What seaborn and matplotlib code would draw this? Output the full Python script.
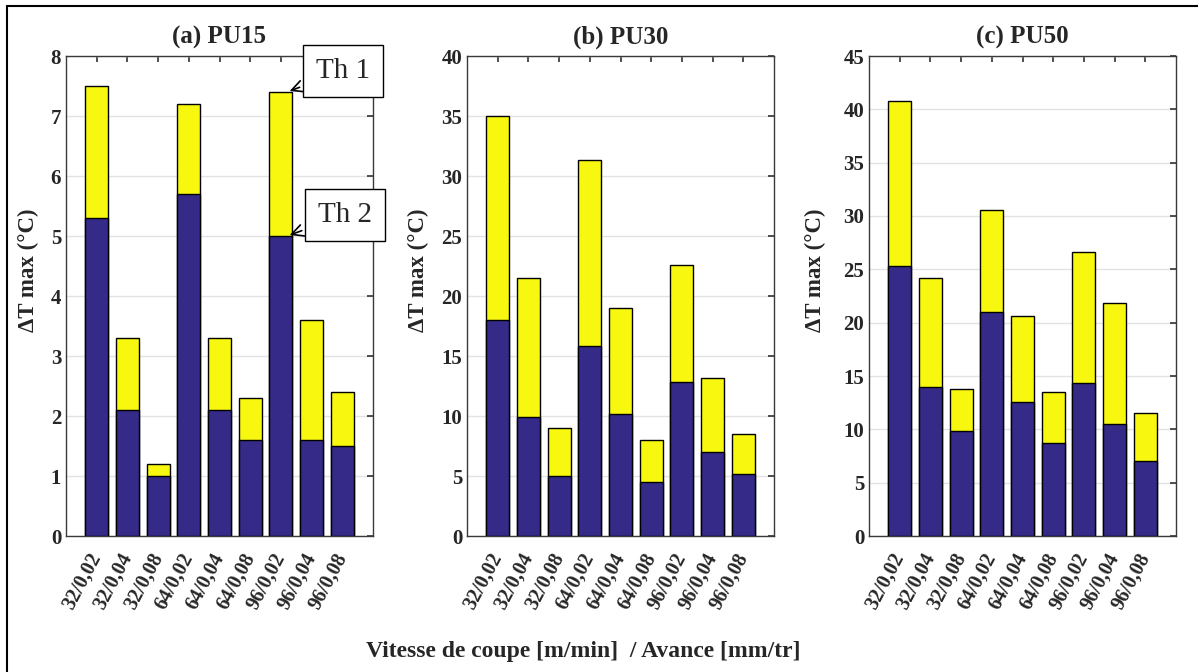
import seaborn as sns
import pandas as pd
import matplotlib.pyplot as plt
from matplotlib.lines import Line2D

sns.set_theme(style="white")
plt.rcParams['font.family'] = ['Liberation Serif', 'DejaVu Serif']
plt.rcParams['font.weight'] = 'bold'

# conditions de coupe (vitesse / avance)
conditions = ["32/0,02", "32/0,04", "32/0,08", "64/0,02", "64/0,04",
              "64/0,08", "96/0,02", "96/0,04", "96/0,08"]
titles = ["(a) PU15", "(b) PU30", "(c) PU50"]

# Th 1 = hauteur totale, Th 2 = partie basse
th1_pu15 = [7.5, 3.3, 1.2, 7.2, 3.3, 2.3, 7.4, 3.6, 2.4]
th2_pu15 = [5.3, 2.1, 1.0, 5.7, 2.1, 1.6, 5.0, 1.6, 1.5]
th1_pu30 = [35.0, 21.5, 9.0, 31.3, 19.0, 8.0, 22.6, 13.2, 8.5]
th2_pu30 = [18.0, 9.9, 5.0, 15.8, 10.2, 4.5, 12.8, 7.0, 5.2]
th1_pu50 = [40.8, 24.2, 13.8, 30.6, 20.6, 13.5, 26.6, 21.8, 11.5]
th2_pu50 = [25.3, 14.0, 9.8, 21.0, 12.6, 8.7, 14.3, 10.5, 7.0]

th1_all = [th1_pu15, th1_pu30, th1_pu50]
th2_all = [th2_pu15, th2_pu30, th2_pu50]
ymax = [8, 40, 45]
ystep = [1, 5, 5]

navy = "#352A87"
yellow = "#F7F70F"
grey = "#3a3a3a"

fig = plt.figure(figsize=(11.98, 6.72), dpi=100)
lefts = [66, 467, 869]
ylab_x = [-0.088, -0.124, -0.141]

for i in range(3):
    ax = fig.add_axes([lefts[i] / 1198, 136 / 672, 307 / 1198, 480 / 672])
    df = pd.DataFrame({"cond": conditions, "th1": th1_all[i], "th2": th2_all[i]})
    sns.barplot(data=df, x="cond", y="th1", color=yellow, saturation=1,
                width=0.75, edgecolor="black", linewidth=1, ax=ax, zorder=2)
    sns.barplot(data=df, x="cond", y="th2", color=navy, saturation=1,
                width=0.75, edgecolor="black", linewidth=1, ax=ax, zorder=3)
    ax.set_xlim(-1, 9)
    ax.set_ylim(0, ymax[i])
    ax.set_yticks(range(0, ymax[i] + 1, ystep[i]))
    ax.set_axisbelow(True)
    ax.yaxis.grid(True, color="#e3e3e3", linewidth=1)
    ax.tick_params(direction="in", top=True, right=True, length=4,
                   color=grey, labelcolor="#262626", labelsize=15)
    ax.set_xticks(range(9))
    ax.set_xticklabels(conditions, rotation=62, ha="right", va="center",
                       rotation_mode="anchor", fontsize=14.5)
    ax.tick_params(axis="x", pad=13)
    for s in ax.spines.values():
        s.set_color(grey)
        s.set_linewidth(1)
    ax.set_xlabel("")
    ax.set_ylabel("ΔT max (°C)", fontsize=16.5, fontweight="bold")
    ax.yaxis.set_label_coords(ylab_x[i], 0.554)
    ax.set_title(titles[i], fontsize=18, fontweight="bold", pad=9)

    if i == 0:
        ax.annotate("Th 1", xy=(6.2, th1_pu15[6]), xytext=(8.02, 7.75),
                    fontsize=21, fontweight="normal", ha="center", va="center",
                    bbox=dict(boxstyle="square,pad=0.45", fc="white", ec="black", lw=1),
                    arrowprops=dict(arrowstyle="->", color="black", lw=1.2),
                    annotation_clip=False, zorder=5)
        ax.annotate("Th 2", xy=(6.2, th2_pu15[6]), xytext=(8.09, 5.35),
                    fontsize=21, fontweight="normal", ha="center", va="center",
                    bbox=dict(boxstyle="square,pad=0.45", fc="white", ec="black", lw=1),
                    arrowprops=dict(arrowstyle="->", color="black", lw=1.2),
                    annotation_clip=False, zorder=5)

fig.text(583 / 1198, 1 - 652 / 672, "Vitesse de coupe [m/min]  / Avance [mm/tr]",
         ha="center", va="center", fontsize=17, fontweight="bold")

# cadre gauche et haut
fig.add_artist(Line2D([7 / 1198, 7 / 1198], [0, 1 - 6 / 672], color="black", lw=1.5,
                      transform=fig.transFigure))
fig.add_artist(Line2D([7 / 1198, 1], [1 - 6 / 672, 1 - 6 / 672], color="black", lw=1.5,
                      transform=fig.transFigure))

plt.savefig("out.png", dpi=100)
